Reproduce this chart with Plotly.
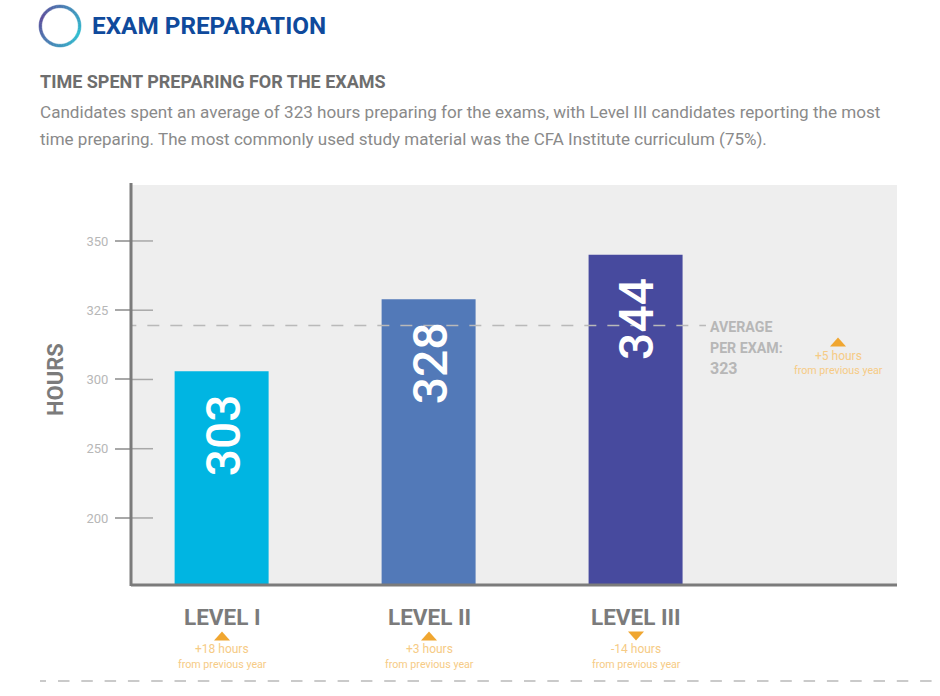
import plotly.graph_objects as go

# values as printed on the chart
levels = ['LEVEL I', 'LEVEL II', 'LEVEL III']
hours = [303, 328, 344]
# bar tops as read against the 300-350 part of the axis
bar_tops = [303, 329, 345]
bar_colors = ['#00b5e2', '#5279b8', '#474a9e']
level_deltas = ['+18 hours', '+3 hours', '-14 hours']
delta_signs = [1, 1, -1]

tick_positions = [250, 275, 300, 325, 350]
tick_labels = ['200', '250', '300', '325', '350']  # the printed axis is not linear below 300

average_line = 319.5
average_lines = ['AVERAGE', 'PER EXAM:', '323']
average_sizes = [14.2, 14.2, 16]
average_delta = '+5 hours'

GREY = '#7b7b7b'
LIGHT = '#b7b7b7'
ORANGE = '#f0a630'
PALE_ORANGE = '#f6cb85'

# plot area in page pixels
L, R, T, B = 132, 897, 185, 585
W, H = 940, 696

def px(x):
    return x / W

def py(y):
    return 1 - y / H

fig = go.Figure()

fig.add_trace(go.Bar(x=[0, 1, 2], y=bar_tops, marker_color=bar_colors, marker_line_width=0, width=94 / 207))

fig.add_trace(go.Scatter(
    x=[-0.47, 2.34], y=[average_line, average_line], mode='lines',
    line=dict(color='#b9b9b9', width=1.5, dash='12px,11px'), hoverinfo='skip'
))

# ring next to the header, small pie so it can have a colour sweep
ring_values = [1] * 36
ring_colors = []
for i in range(36):
    d = abs(i - 11)
    t = min(d, 36 - d) / 18
    r = int(47 + (92 - 47) * t)
    g = int(190 + (78 - 190) * t)
    b = int(208 + (156 - 208) * t)
    ring_colors.append(f'rgb({r},{g},{b})')
fig.add_trace(go.Pie(
    values=ring_values, hole=0.87, sort=False, direction='clockwise', textinfo='none', hoverinfo='skip',
    marker=dict(colors=ring_colors, line=dict(color=ring_colors, width=0.5)),
    domain=dict(x=[px(39), px(81)], y=[py(47), py(5)]), showlegend=False
))

annotations = []

def add_text(x, y, text, size, color, bold=False, xanchor='left', **kw):
    if bold:
        text = f'<b>{text}</b>'
    annotations.append(dict(
        x=px(x), y=py(y), xref='paper', yref='paper', text=text, showarrow=False,
        xanchor=xanchor, yanchor='middle', font=dict(family='Roboto', size=size, color=color), **kw
    ))

add_text(90, 25, 'EXAM PREPARATION', 24.3, '#0f4a9c', bold=True)
add_text(38, 81, 'TIME SPENT PREPARING FOR THE EXAMS', 18, '#6e6e6e', bold=True)
add_text(38, 112, 'Candidates spent an average of 323 hours preparing for the exams, with Level III candidates reporting the most', 17.1, '#8a8a8a')
add_text(38, 139, 'time preparing. The most commonly used study material was the CFA Institute curriculum (75%).', 17, '#8a8a8a')
add_text(55, 380, 'HOURS', 22, GREY, bold=True, xanchor='center', textangle=-90)

for i in range(3):
    annotations.append(dict(
        x=i, y=bar_tops[i], xref='x', yref='y', text=str(hours[i]), showarrow=False,
        textangle=-90, yanchor='top', xanchor='center', yshift=-21, xshift=1.5,
        font=dict(family='Roboto', size=48, color='white', weight=500)
    ))

centers = [222, 429, 636]
for i in range(3):
    add_text(centers[i], 617, levels[i], 22.5, GREY, bold=True, xanchor='center')
    add_text(centers[i], 649, level_deltas[i], 12, PALE_ORANGE, xanchor='center')
    add_text(centers[i], 664, 'from previous year', 10.7, PALE_ORANGE, xanchor='center')

for line, y, size in zip(average_lines, [327, 348, 368], average_sizes):
    add_text(708, y, line, size, LIGHT, bold=True)
add_text(838, 356, average_delta, 12, PALE_ORANGE, xanchor='center')
add_text(838, 370, 'from previous year', 10.7, PALE_ORANGE, xanchor='center')

shapes = []

# ticks run through the axis into the plot
for t in tick_positions:
    shapes.append(dict(
        type='line', xref='x domain', yref='y', x0=0, x1=21 / (R - L), y0=t, y1=t,
        line=dict(color='#a8a8a8', width=1.5)
    ))

def triangle(cx, cy, sign):
    tip = cy - 4.5 * sign
    base = cy + 4.5 * sign
    return (f'M {px(cx - 8)} {py(base)} L {px(cx + 8)} {py(base)} '
            f'L {px(cx)} {py(tip)} Z')

for i in range(3):
    shapes.append(dict(type='path', xref='paper', yref='paper', path=triangle(centers[i], 636, delta_signs[i]),
                       fillcolor=ORANGE, line_width=0))
shapes.append(dict(type='path', xref='paper', yref='paper', path=triangle(838, 342, 1),
                   fillcolor=ORANGE, line_width=0))

# left axis sticks out a little above the grey area
shapes.append(dict(type='line', xref='paper', yref='paper', x0=px(131), x1=px(131), y0=py(586), y1=py(183),
                   line=dict(color=GREY, width=3)))
shapes.append(dict(type='line', xref='paper', yref='paper', x0=px(131), x1=px(897), y0=py(585), y1=py(585),
                   line=dict(color=GREY, width=3)))
# dashed rule at the bottom of the page, first dash is cut short in the original
shapes.append(dict(type='line', xref='paper', yref='paper', x0=px(40), x1=px(46), y0=py(681), y1=py(681),
                   line=dict(color='#b9b9b9', width=1.5)))
shapes.append(dict(type='line', xref='paper', yref='paper', x0=px(58), x1=px(940), y0=py(681), y1=py(681),
                   line=dict(color='#b9b9b9', width=1.5, dash='11.5px,11.8px')))

fig.update_layout(
    width=W,
    height=H,
    margin=dict(l=0, r=0, t=0, b=0),
    paper_bgcolor='white',
    plot_bgcolor='#eeeeee',
    showlegend=False,
    annotations=annotations,
    shapes=shapes,
    xaxis=dict(domain=[px(L), px(R)], range=[-0.433, 3.263], showgrid=False, zeroline=False,
               showticklabels=False, ticks=''),
    yaxis=dict(
        domain=[py(B), py(T)], range=[225.8, 370.2], tickvals=tick_positions, ticktext=tick_labels,
        showgrid=False, zeroline=False, ticks='outside', ticklen=16, tickwidth=1.5, tickcolor='#a8a8a8',
        ticklabelstandoff=4, tickfont=dict(family='Roboto', size=13, color=LIGHT)
    )
)

fig.write_html("out.html", config=dict(displayModeBar=False), post_script="document.body.style.margin='0';")
